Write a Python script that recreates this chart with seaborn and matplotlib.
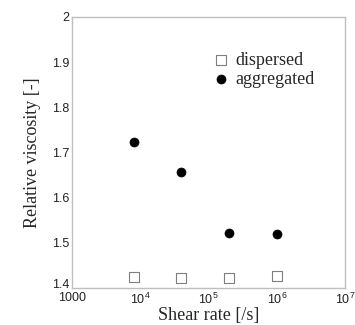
import numpy as np
import pandas as pd
import matplotlib
matplotlib.use("Agg")
import matplotlib.pyplot as plt
import matplotlib.transforms as mtransforms
import seaborn as sns

# data
shear_rate = [8.0e3, 4.0e4, 2.0e5, 1.0e6]
visc_dispersed = [1.424, 1.422, 1.422, 1.426]
visc_aggregated = [1.722, 1.657, 1.522, 1.519]

x_ticks = [1e3, 1e4, 1e5, 1e6, 1e7]
x_tick_labels = ["1000", "$10^4$", "$10^5$", "$10^6$", "$10^7$"]
y_ticks = [1.4, 1.5, 1.6, 1.7, 1.8, 1.9, 2.0]
y_tick_labels = ["1.4", "1.5", "1.6", "1.7", "1.8", "1.9", "2"]

df = pd.DataFrame({
    "shear": shear_rate * 2,
    "visc": visc_dispersed + visc_aggregated,
    "state": ["dispersed"] * 4 + ["aggregated"] * 4,
})

sns.set_style("white")
plt.rcParams["font.family"] = ["Liberation Sans", "DejaVu Sans"]
plt.rcParams["mathtext.fontset"] = "custom"
plt.rcParams["mathtext.rm"] = "Liberation Sans"
plt.rcParams["mathtext.it"] = "Liberation Sans"

fig = plt.figure(figsize=(3.55, 3.25), dpi=100)
ax = fig.add_axes([0.203, 0.114, 0.769, 0.834])

sns.scatterplot(data=df[df.state == "dispersed"], x="shear", y="visc", ax=ax,
                marker="s", s=42, facecolor="white", edgecolor="#7f7f7f",
                linewidth=0.8, label="dispersed")
sns.scatterplot(data=df[df.state == "aggregated"], x="shear", y="visc", ax=ax,
                marker="o", s=42, color="black", edgecolor="black",
                linewidth=0.5, label="aggregated")

ax.set_xscale("log")
ax.set_xlim(1e3, 1e7)
ax.set_ylim(1.4, 2.0)
ax.set_xticks(x_ticks)
ax.set_xticklabels(x_tick_labels)
ax.set_yticks(y_ticks)
ax.set_yticklabels(y_tick_labels)
ax.minorticks_off()
ax.tick_params(length=0, labelsize=9, colors="#222222", pad=2)
ax.tick_params(axis="x", pad=3)

# nudge the lowest y label up a little so it clears "1000"
lbl = ax.get_yticklabels()[0]
lbl.set_transform(lbl.get_transform() +
                  mtransforms.ScaledTranslation(0, 3 / 72, fig.dpi_scale_trans))

for sp in ax.spines.values():
    sp.set_color("#bfbfbf")
    sp.set_linewidth(1.0)

serif = ["Liberation Serif", "DejaVu Serif"]
ax.set_xlabel("Shear rate [/s]", family=serif, fontsize=13, labelpad=0)
ax.set_ylabel("Relative viscosity [-]", family=serif, fontsize=13, labelpad=8)

leg = ax.legend(loc="upper right", bbox_to_anchor=(0.93, 0.91), frameon=False,
                prop={"family": serif, "size": 13}, handletextpad=0.3,
                labelspacing=0.1, handlelength=1.0, borderaxespad=0.2)

fig.savefig("out.png", dpi=100)
